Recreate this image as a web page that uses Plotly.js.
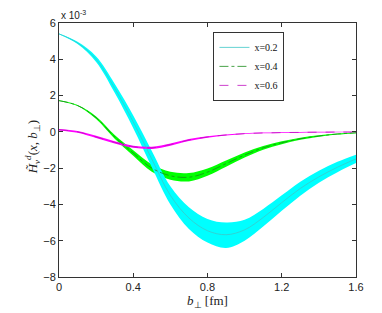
<!DOCTYPE html>
<html>
<head>
<meta charset="utf-8">
<script src="https://cdn.plot.ly/plotly-3.0.1.min.js"></script>
<style>html,body{margin:0;padding:0;background:#fff;}#chart{width:382px;height:313px;}</style>
</head>
<body>
<div id="chart"></div>
<script>
// b_perp [fm]
const bPerp = [0, 0.1, 0.2, 0.3, 0.4, 0.5, 0.6, 0.7, 0.8, 0.9, 1.0, 1.1, 1.2, 1.3, 1.4, 1.5, 1.6];
// values in units of 1e-3
const x02Upper  = [5.42, 4.96, 4.15, 2.65, 0.90, -1.05, -3.00, -4.15, -4.80, -5.00, -4.85, -4.25, -3.50, -2.75, -2.15, -1.65, -1.26];
const x02Center = [5.40, 4.90, 4.00, 2.40, 0.55, -1.50, -3.50, -4.75, -5.45, -5.67, -5.40, -4.72, -3.90, -3.12, -2.48, -1.95, -1.49];
const x02Lower  = [5.38, 4.84, 3.85, 2.15, 0.20, -1.95, -4.00, -5.35, -6.10, -6.40, -6.00, -5.22, -4.35, -3.52, -2.80, -2.22, -1.72];

const x04Upper  = [1.74, 1.48, 0.85, -0.18, -1.02, -1.80, -2.20, -2.27, -2.02, -1.58, -1.14, -0.78, -0.52, -0.32, -0.19, -0.09, -0.03];
const x04Center = [1.72, 1.45, 0.78, -0.28, -1.17, -2.00, -2.42, -2.50, -2.22, -1.75, -1.28, -0.88, -0.60, -0.38, -0.23, -0.12, -0.05];
const x04Lower  = [1.70, 1.42, 0.71, -0.38, -1.32, -2.20, -2.64, -2.73, -2.42, -1.92, -1.42, -0.98, -0.68, -0.44, -0.27, -0.15, -0.07];

const x06Upper  = [0.16, 0.05, -0.22, -0.52, -0.76, -0.82, -0.64, -0.40, -0.24, -0.14, -0.08, -0.04, -0.02, -0.01, 0.00, 0.00, 0.00];
const x06Center = [0.12, 0.00, -0.28, -0.58, -0.82, -0.88, -0.70, -0.45, -0.28, -0.17, -0.10, -0.06, -0.04, -0.03, -0.02, -0.01, -0.01];
const x06Lower  = [0.08, -0.05, -0.34, -0.64, -0.88, -0.94, -0.76, -0.50, -0.32, -0.20, -0.12, -0.08, -0.06, -0.05, -0.04, -0.02, -0.02];

const seriesNames = ['x=0.2', 'x=0.4', 'x=0.6'];

function band(lower, upper, fillColor) {
  return [
    {x: bPerp, y: lower, type: 'scatter', mode: 'lines', line: {width: 0, shape: 'spline'}, showlegend: false, hoverinfo: 'skip'},
    {x: bPerp, y: upper, type: 'scatter', mode: 'lines', fill: 'tonexty', fillcolor: fillColor, line: {width: 0, shape: 'spline'}, showlegend: false, hoverinfo: 'skip'}
  ];
}

const traces = [].concat(
  band(x04Lower, x04Upper, '#00ff00'),
  band(x02Lower, x02Upper, '#00ffff'),
  band(x06Lower, x06Upper, '#ff00ff'),
  [
    {x: bPerp, y: x02Center, type: 'scatter', mode: 'lines', name: seriesNames[0], line: {color: '#3cc8c8', width: 0.8, shape: 'spline'}},
    {x: bPerp, y: x04Center, type: 'scatter', mode: 'lines', name: seriesNames[1], line: {color: '#1a8c1a', width: 0.8, dash: 'dashdot', shape: 'spline'}},
    {x: bPerp, y: x06Center, type: 'scatter', mode: 'lines', name: seriesNames[2], line: {color: '#c010c0', width: 0.8, dash: 'dash', shape: 'spline'}}
  ]
);

const tickFont = {family: 'Liberation Sans, Arial, sans-serif', size: 11, color: '#222'};
const serif = 'Liberation Serif, Times New Roman, serif';

const layout = {
  width: 382, height: 313,
  margin: {l: 59, r: 26, t: 23, b: 36, pad: 0},
  paper_bgcolor: '#fff', plot_bgcolor: '#fff',
  showlegend: true,
  legend: {
    x: 0.52, y: 0.965, xanchor: 'left', yanchor: 'top',
    traceorder: 'normal',
    bgcolor: '#fff', bordercolor: '#333', borderwidth: 1,
    font: {family: serif, size: 10, color: '#111'},
    tracegroupgap: 0, itemwidth: 30
  },
  xaxis: {
    range: [0, 1.6], tickvals: [0, 0.4, 0.8, 1.2, 1.6], ticktext: ['0', '0.4', '0.8', '1.2', '1.6'],
    ticks: 'inside', ticklen: 4, tickcolor: '#333', mirror: 'allticks',
    showline: true, linecolor: '#333', linewidth: 1, showgrid: false, zeroline: false,
    tickfont: tickFont,
    title: {text: '<i>b</i><sub>⊥</sub> [fm]', font: {family: serif, size: 13, color: '#222'}, standoff: 2}
  },
  yaxis: {
    range: [-8, 6], tickvals: [-8, -6, -4, -2, 0, 2, 4, 6],
    ticks: 'inside', ticklen: 4, tickcolor: '#333', mirror: 'allticks',
    showline: true, linecolor: '#333', linewidth: 1, showgrid: false, zeroline: false,
    tickfont: tickFont
  },
  annotations: [{
    xref: 'paper', yref: 'paper', x: 0, y: 1, xanchor: 'left', yanchor: 'bottom',
    text: 'x 10<sup>-3</sup>', showarrow: false,
    font: {family: 'Liberation Sans, Arial, sans-serif', size: 10, color: '#222'}
  }, {
    xref: 'paper', yref: 'paper', x: -0.088, y: 0.51, xanchor: 'center', yanchor: 'middle',
    textangle: -90, showarrow: false,
    text: '<i>H̃</i><sub><i>v</i></sub><sup><i>d</i></sup>(<i>x</i>, <i>b</i><sub>⊥</sub>)',
    font: {family: serif, size: 13, color: '#222'}
  }]
};

Plotly.newPlot('chart', traces, layout, {displayModeBar: false, staticPlot: true});
</script>
</body>
</html>
